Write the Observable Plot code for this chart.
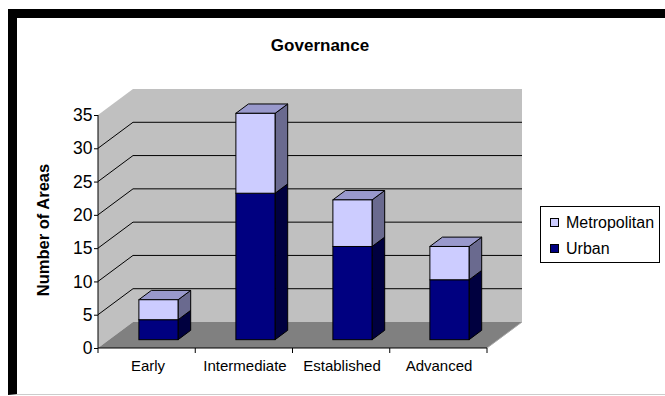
<!DOCTYPE html>
<html><head><meta charset="utf-8">
<script src="https://cdn.jsdelivr.net/npm/d3@7"></script>
<script src="https://cdn.jsdelivr.net/npm/@observablehq/plot@0.6"></script>
<style>
html,body{margin:0;padding:0;background:#fff;}
#wrap{position:relative;width:665px;height:396px;overflow:hidden;font-family:"Liberation Sans",Arial,sans-serif;}
#chart{position:absolute;left:0;top:0;}
#overlay{position:absolute;left:0;top:0;pointer-events:none;}
#border{position:absolute;left:8px;top:9px;right:0;bottom:1px;border-top:9px solid #000;border-left:9px solid #000;border-bottom:1px solid #ccc;pointer-events:none;}
</style></head><body>
<div id="wrap"><div id="chart"></div><svg id="overlay" width="665" height="396"></svg><div id="border"></div></div>
<script>
// ---- data ----
const categories = ["Early", "Intermediate", "Established", "Advanced"];
const urban = [3, 22, 14, 9];
const metropolitan = [3, 12, 7, 5];
const seriesNames = ["Metropolitan", "Urban"];
const yTicks = [0, 5, 10, 15, 20, 25, 30, 35];
const titleText = "Governance";
const yLabelText = "Number of Areas";

// ---- styling / layout ----
const W = 665, H = 396;
const M = {left: 98, right: 178, top: 115, bottom: 48};
const DX = 35, DY = -26;          // full depth offset of the 3D box
const F0 = 0.32, F1 = 0.68;       // bar depth (fraction of box depth)
const BL = 0.295, BR = 0.70;      // bar front face within band
const frontFill = {Metropolitan: "#ccccff", Urban: "#000080"};
const sideFill = {Metropolitan: "#6a6a8f", Urban: "#00003f"};
const topFill = {Metropolitan: "#9999cc", Urban: "#000060"};
const bw = (W - M.left - M.right) / categories.length;

const rows = [];
categories.forEach((c, i) => {
  rows.push({cat: c, series: "Urban", y1: 0, y2: urban[i], top: metropolitan[i] === 0});
  rows.push({cat: c, series: "Metropolitan", y1: urban[i], y2: urban[i] + metropolitan[i], top: true});
});
const ymax = d3.max(yTicks);

function ptsStr(pts) { return pts.map(p => p.join(",")).join(" "); }

function wallsMark(index, scales, values, dim) {
  const {y} = scales;
  const x0 = dim.marginLeft, x1 = dim.width - dim.marginRight;
  const y0 = y(0), yT = y(ymax);
  const g = d3.create("svg:g");
  g.append("polygon").attr("points", ptsStr([[x0, y0], [x0 + DX, y0 + DY], [x0 + DX, yT + DY], [x0, yT]])).attr("fill", "#c0c0c0");
  g.append("polygon").attr("points", ptsStr([[x0 + DX, y0 + DY], [x1 + DX, y0 + DY], [x1 + DX, yT + DY], [x0 + DX, yT + DY]])).attr("fill", "#c0c0c0");
  g.append("polygon").attr("points", ptsStr([[x0, y0], [x1, y0], [x1 + DX, y0 + DY], [x0 + DX, y0 + DY]])).attr("fill", "#808080");
  for (const v of yTicks) {
    if (v <= 0 || v >= ymax) continue;
    g.append("path").attr("d", `M${x0},${y(v)}L${x0 + DX},${y(v) + DY}L${x1 + DX},${y(v) + DY}`)
      .attr("fill", "none").attr("stroke", "#000").attr("stroke-width", 1);
  }
  g.append("path").attr("d", `M${x1},${y0}L${x1 + DX},${y0 + DY}`).attr("stroke", "#a8a8a8").attr("fill", "none");
  g.append("path").attr("d", `M${x0},${yT}L${x0},${y0}L${x1},${y0}`).attr("stroke", "#000").attr("fill", "none");
  for (let i = 0; i <= categories.length; i++) {
    const xx = x0 + i * (x1 - x0) / categories.length;
    g.append("path").attr("d", `M${xx},${y0}L${xx},${y0 + 5}`).attr("stroke", "#000");
  }
  return g.node();
}

function barsSideMark(index, scales, values, dim) {
  const {x, y} = scales;
  const b = typeof x.bandwidth === "function" ? x.bandwidth() : (x.bandwidth || bw);
  const fdx = DX * F0, fdy = DY * F0, sdx = DX * (F1 - F0), sdy = DY * (F1 - F0);
  const g = d3.create("svg:g").attr("stroke", "#000").attr("stroke-linejoin", "round");
  for (const r of rows) {
    const xl = x(r.cat) + b * BL + fdx, xr = x(r.cat) + b * BR + fdx;
    const ya = y(r.y1) + fdy, yb = y(r.y2) + fdy;
    g.append("polygon").attr("points", ptsStr([[xr, ya], [xr + sdx, ya + sdy], [xr + sdx, yb + sdy], [xr, yb]])).attr("fill", sideFill[r.series]);
    if (r.top) g.append("polygon").attr("points", ptsStr([[xl, yb], [xr, yb], [xr + sdx, yb + sdy], [xl + sdx, yb + sdy]])).attr("fill", topFill[r.series]);
  }
  return g.node();
}

const chart = Plot.plot({
  width: W, height: H,
  marginLeft: M.left, marginRight: M.right, marginTop: M.top, marginBottom: M.bottom,
  style: {fontFamily: '"Liberation Sans", Arial, sans-serif', fontSize: "16px", color: "#000", background: "transparent"},
  x: {type: "band", domain: categories, padding: 0},
  y: {domain: [0, ymax]},
  color: {domain: seriesNames, range: seriesNames.map(s => frontFill[s])},
  marks: [
    wallsMark,
    Plot.axisY({ticks: yTicks, tickSize: 4, tickPadding: 2, fontSize: 17.5, label: null, tickFormat: d => String(d)}),
    Plot.axisX({tickSize: 0, tickPadding: 12, fontSize: 15, label: null}),
    barsSideMark,
    Plot.barY(rows, {x: "cat", y1: "y1", y2: "y2", fill: "series", stroke: "#000", strokeWidth: 1,
      insetLeft: bw * BL, insetRight: bw * (1 - BR), dx: DX * F0, dy: DY * F0})
  ]
});
document.getElementById("chart").appendChild(chart);

// ---- title, y label, legend ----
const ov = d3.select("#overlay").style("font-family", '"Liberation Sans", Arial, sans-serif');
ov.append("text").attr("x", 320).attr("y", 51).attr("text-anchor", "middle").attr("font-size", 17).attr("font-weight", "bold").text(titleText);
ov.append("text").attr("transform", "translate(49,230) rotate(-90)").attr("text-anchor", "middle").attr("font-size", 16.5).attr("font-weight", "bold").text(yLabelText);
const lg = ov.append("g").attr("transform", "translate(540,206)");
lg.append("rect").attr("x", 0.5).attr("y", 0.5).attr("width", 119).attr("height", 56).attr("fill", "#fff").attr("stroke", "#000");
seriesNames.forEach((s, i) => {
  const by = 22 + i * 26;
  lg.append("rect").attr("x", 10.5).attr("y", by - 9.5).attr("width", 8).attr("height", 8).attr("fill", frontFill[s]).attr("stroke", "#000");
  lg.append("text").attr("x", 26).attr("y", by).attr("font-size", 16).text(s);
});
</script>
</body></html>
